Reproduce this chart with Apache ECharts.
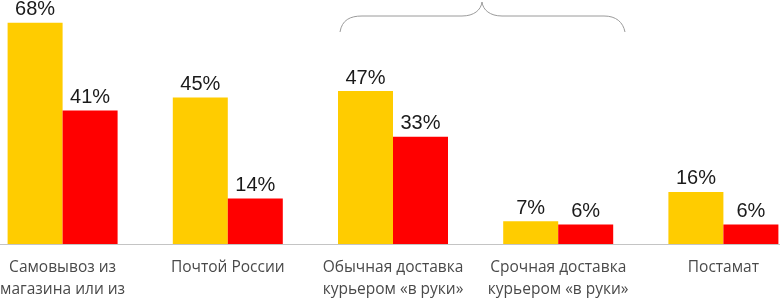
<!DOCTYPE html>
<html>
<head>
<meta charset="utf-8">
<script src="https://cdn.jsdelivr.net/npm/echarts@6/dist/echarts.min.js"></script>
<style>
  html, body { margin: 0; padding: 0; background: #fff; }
  #chart { width: 780px; height: 298px; }
</style>
</head>
<body>
<div id="chart"></div>
<script>
    // способы доставки
    var categories = [
        'Самовывоз из\nмагазина или из',
        'Почтой России',
        'Обычная доставка\nкурьером «в руки»',
        'Срочная доставка\nкурьером «в руки»',
        'Постамат'
    ];
    var yellowValues = [68, 45, 47, 7, 16];
    var redValues = [41, 14, 33, 6, 6];

    var myChart = echarts.init(document.getElementById('chart'));

    var barLabel = {
        show: true,
        position: 'top',
        distance: 3,
        formatter: '{c}%',
        color: '#1a1a1a',
        fontFamily: 'Liberation Sans',
        fontSize: 20
    };

    // фигурная скобка над курьерской доставкой
    var braceStyle = { fill: 'none', stroke: '#9a9a9a', lineWidth: 1 };
    function curve(x1, y1, c1x, c1y, c2x, c2y, x2, y2) {
        return {
            type: 'bezierCurve',
            shape: { x1: x1, y1: y1, cpx1: c1x, cpy1: c1y, cpx2: c2x, cpy2: c2y, x2: x2, y2: y2 },
            style: braceStyle
        };
    }
    function seg(x1, y1, x2, y2) {
        return { type: 'line', shape: { x1: x1, y1: y1, x2: x2, y2: y2 }, style: braceStyle };
    }

    var option = {
        animation: false,
        grid: {
            left: -20,
            right: -26,
            top: 0,
            bottom: 54,
            containLabel: false,
            outerBoundsMode: 'none'
        },
        xAxis: {
            type: 'category',
            data: categories,
            axisLine: { lineStyle: { color: '#c4c4c4', width: 1 } },
            axisTick: { show: false },
            axisLabel: {
                color: '#4a4a4a',
                fontFamily: 'Open Sans',
                fontSize: 15.5,
                lineHeight: 22,
                margin: 13,
                interval: 0,
                hideOverlap: false
            }
        },
        yAxis: {
            type: 'value',
            min: 0,
            max: 75,
            show: false,
            splitLine: { show: false }
        },
        series: [
            {
                type: 'bar',
                data: yellowValues,
                barWidth: 55,
                barGap: '0%',
                itemStyle: { color: '#FFCC00' },
                label: barLabel
            },
            {
                type: 'bar',
                data: redValues,
                barWidth: 55,
                itemStyle: { color: '#FF0000' },
                label: barLabel
            }
        ],
        graphic: [
            curve(340, 32, 342, 20, 350, 16, 362, 16),
            seg(362, 16, 462, 16),
            curve(462, 16, 474, 16, 481, 10, 482, 2),
            curve(482, 2, 483, 10, 490, 16, 502, 16),
            seg(502, 16, 604, 16),
            curve(604, 16, 616, 16, 623, 22, 625, 32)
        ]
    };
    myChart.setOption(option);
</script>
</body>
</html>
